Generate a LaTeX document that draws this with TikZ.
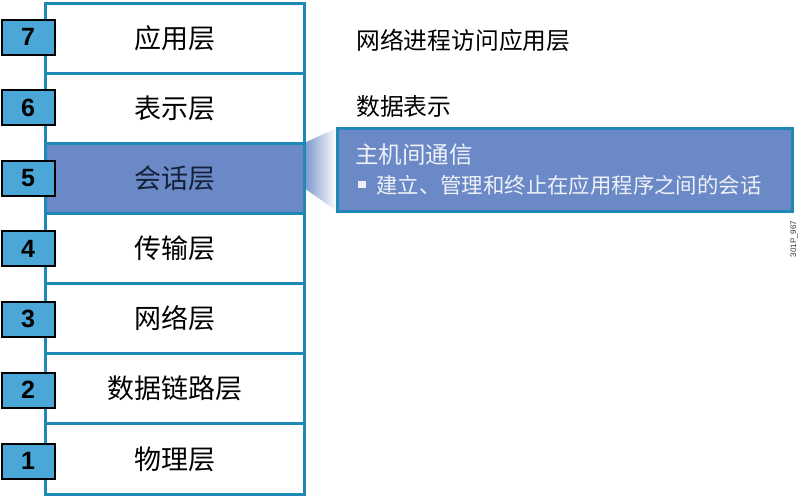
\documentclass[tikz,border=0pt]{standalone}
\usepackage{fontspec}
\setmainfont{Liberation Sans}
\newfontfamily\cjk{Noto Sans CJK SC}
\definecolor{teal}{HTML}{1E88B6}
\definecolor{sess}{HTML}{6A89C6}
\definecolor{numfill}{HTML}{4BA7D8}
\definecolor{darktxt}{HTML}{15213A}
\definecolor{lighttxt}{HTML}{EEF1F8}
\begin{document}
\begin{tikzpicture}[x=1pt,y=-1pt,
  layerbox/.style={draw=teal,line width=3pt,fill=white,minimum width=259pt,minimum height=70.14pt,inner sep=0pt,
    font=\cjk\fontsize{27}{32}\selectfont},
  numbox/.style={draw=black,line width=2pt,fill=numfill,minimum width=53pt,minimum height=35pt,inner sep=0pt,
    font=\bfseries\fontsize{25}{29}\selectfont},
  sidelabel/.style={anchor=west,inner sep=0pt,font=\cjk\fontsize{23.8}{28}\selectfont}]
\useasboundingbox (0,0) rectangle (799,498);
\fill[white] (0,0) rectangle (799,498);
% wedge
\shade[left color=sess!90!white,right color=white] (304,143) -- (337,128) -- (337,211) -- (304,188) -- cycle;
% layers
\def\lx{174.5}
\node[layerbox] (L7) at (\lx,38.07) {应用层};
\node[layerbox] (L6) at (\lx,108.21) {表示层};
\node[layerbox] (L4) at (\lx,248.5) {传输层};
\node[layerbox] (L3) at (\lx,318.64) {网络层};
\node[layerbox] (L2) at (\lx,388.79) {数据链路层};
\node[layerbox] (L1) at (\lx,458.93) {物理层};
\node[layerbox,fill=sess,text=darktxt] (L5) at (\lx,178.36) {会话层};
% numbers
\node[numbox] (N7) at (28,37) {7};
\node[numbox] (N6) at (28,107.5) {6};
\node[numbox] (N5) at (28,178) {5};
\node[numbox] (N4) at (28,248.5) {4};
\node[numbox] (N3) at (28,319) {3};
\node[numbox] (N2) at (28,390) {2};
\node[numbox] (N1) at (28,461) {1};
% side labels
\node[sidelabel] (S7) at (356,40) {网络进程访问应用层};
\node[sidelabel] (S6) at (356,106) {数据表示};
% callout
\node[draw=teal,line width=3pt,fill=sess,minimum width=455pt,minimum height=83pt,inner sep=0pt] (C) at (564.5,170) {};
\node[anchor=west,inner sep=0pt,text=lighttxt,font=\cjk\fontsize{23.5}{28}\selectfont] (CT) at (355,155) {主机间通信};
\fill[lighttxt] (358,180.5) rectangle (365.5,188) coordinate (B);
\node[anchor=west,inner sep=0pt,text=lighttxt,font=\cjk\fontsize{21.4}{25}\selectfont] (CB) at (376,185) {建立、管理和终止在应用程序之间的会话};
% code
\node[rotate=90,inner sep=0pt,font=\fontsize{8}{9}\selectfont,text=black!80] (code) at (794,239) {301P\_967};
\end{tikzpicture}
\end{document}
